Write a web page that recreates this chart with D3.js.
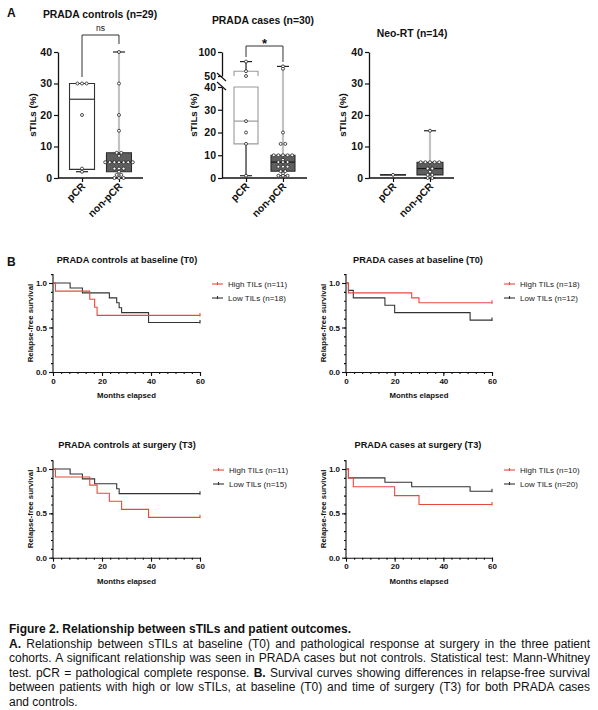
<!DOCTYPE html>
<html lang="en">
<head>
<meta charset="utf-8">
<script src="https://cdn.jsdelivr.net/npm/d3@7"></script>
<style>
    body { margin: 0; background: #fff; font-family: "Liberation Sans", Arial, sans-serif; }
    svg { position: absolute; left: 0; top: 0; }
    #caption { position: absolute; left: 9px; top: 622px; width: 581px; font-size: 12px; line-height: 14.6px; color: #111; }
    #caption div { white-space: nowrap; }
</style>
</head>
<body>
<script>
    // ---- panel A : sTILs (%) per response group ----
    var categories = ['pCR', 'non-pCR'];
    var controlsPCR = [30, 30, 30, 20, 3, 2];
    var controlsNonPCR = [40, 30, 20, 15, 8, 8, 7, 5, 5, 5, 5, 5, 5, 5, 3, 3, 3, 2, 1, 1, 0, 0, 0];
    var casesPCR = [80, 60, 50, 25, 20, 15, 1];
    var casesNonPCR = [70, 65, 20, 15, 15, 10, 10, 10, 10, 10, 8, 7, 7, 7, 5, 5, 5, 3, 3, 2, 1, 1, 1];
    var neoPCR = [1];
    var neoNonPCR = [15, 5, 5, 5, 5, 5, 3, 3, 2, 1, 1, 0, 0];
    var ticksA = [0, 10, 20, 30, 40];
    var ticksBreakLow = [0, 10, 20, 30, 40];
    var ticksBreakHigh = [50, 100];

    // ---- panel B : relapse-free survival, steps as [month, survival] ----
    var kmControlsT0High = [[0, 1], [1, 0.909], [15, 0.818], [17, 0.727], [18, 0.636]];
    var kmControlsT0Low = [[0, 1], [7, 0.944], [12, 0.889], [23, 0.833], [26, 0.778], [27, 0.722], [28, 0.667], [39, 0.556]];
    var kmCasesT0High = [[0, 1], [1, 0.889], [27, 0.833], [30, 0.778]];
    var kmCasesT0Low = [[0, 1], [1, 0.917], [3, 0.833], [16, 0.75], [20, 0.667], [51, 0.583]];
    var kmControlsT3High = [[0, 1], [1, 0.909], [15, 0.818], [18, 0.727], [23, 0.636], [28, 0.545], [39, 0.455]];
    var kmControlsT3Low = [[0, 1], [7, 0.944], [12, 0.889], [17, 0.833], [26, 0.778], [27, 0.722]];
    var kmCasesT3High = [[0, 1], [1, 0.9], [3, 0.8], [20, 0.7], [30, 0.6]];
    var kmCasesT3Low = [[0, 1], [1, 0.9], [16, 0.85], [27, 0.8], [51, 0.75]];
    var kmEnd = 60;
    var monthTicks = [0, 20, 40, 60];
    var survTicks = [0, 0.5, 1.0];
    var legendControlsT0 = ['High TILs (n=11)', 'Low TILs (n=18)'];
    var legendCasesT0 = ['High TILs (n=18)', 'Low TILs (n=12)'];
    var legendControlsT3 = ['High TILs (n=11)', 'Low TILs (n=15)'];
    var legendCasesT3 = ['High TILs (n=10)', 'Low TILs (n=20)'];

    var RED = '#e8493f', DARK = '#333';

    var svg = d3.select('body').append('svg')
            .attr('width', 598)
            .attr('height', 620);

    // GraphPad style quartiles, position (n+1)p
    function quart(vals, p) {
        var s = vals.slice().sort(d3.ascending);
        var pos = (s.length + 1) * p;
        if (pos <= 1) return s[0];
        if (pos >= s.length) return s[s.length - 1];
        var lo = Math.floor(pos);
        return s[lo - 1] + (pos - lo) * (s[lo] - s[lo - 1]);
    }

    function label(g, x, y, txt, size, weight, anchor) {
        return g.append('text')
                .attr('x', x)
                .attr('y', y)
                .attr('font-size', size)
                .attr('font-weight', weight || 'bold')
                .attr('text-anchor', anchor || 'middle')
                .attr('fill', '#111')
                .text(txt);
    }

    function drawBoxPanel(p) {
        var g = svg.append('g');
        var x = d3.scalePoint().domain(categories).range([p.axisX, p.axisX + 85]).padding(0.65);
        var y = p.y;

        label(g, p.titleX, p.titleY, p.title, 10.4);

        // y axis
        p.axes.forEach(function (a) {
            var ax = g.append('g')
                    .attr('transform', 'translate(' + p.axisX + ',0)')
                    .call(d3.axisLeft(a.scale).tickValues(a.ticks).tickSize(4).tickSizeOuter(0).tickPadding(2));
            ax.select('.domain').attr('stroke', '#111').attr('stroke-width', 1.3);
            ax.selectAll('.tick line').attr('stroke', '#111').attr('stroke-width', 1.2);
            ax.selectAll('text').attr('font-size', 10.5).attr('font-weight', 'bold')
                    .attr('font-family', '"Liberation Sans", Arial, sans-serif').attr('fill', '#111');
        });

        // x axis
        var xa = g.append('g')
                .attr('transform', 'translate(0,' + y(0) + ')')
                .call(d3.axisBottom(x).tickSize(4).tickSizeOuter(0).tickFormat(''));
        xa.select('.domain').attr('stroke', '#111').attr('stroke-width', 1.3)
                .attr('d', 'M' + p.axisX + ',0H' + (p.axisX + 85));
        xa.selectAll('.tick line').attr('stroke', '#111').attr('stroke-width', 1.2);
        categories.forEach(function (c) {
            label(g, 0, 0, c, 10.3, 'bold', 'end')
                    .attr('transform', 'translate(' + (x(c) + 4) + ',' + (y(0) + 9) + ') rotate(-45)');
        });

        label(g, 0, 0, 'sTILs (%)', 9.8)
                .attr('transform', 'translate(' + p.yLabelX + ',115) rotate(-90)');

        p.groups.forEach(function (grp, gi) {
            var cx = x(categories[gi]);
            var vals = grp.values;
            var q1 = quart(vals, 0.25), med = quart(vals, 0.5), q3 = quart(vals, 0.75);
            var lo = d3.min(vals), hi = d3.max(vals);
            var hw = p.boxHalf;
            var filled = gi === 1;

            // whiskers
            [[lo, q1], [q3, hi]].forEach(function (w, wi) {
                if (w[0] === w[1]) return;
                var capY = y(wi === 0 ? w[0] : w[1]);
                g.append('line')
                        .attr('x1', cx).attr('x2', cx)
                        .attr('y1', y(w[0])).attr('y2', y(w[1]))
                        .attr('stroke', filled ? '#c2c2c2' : grp.whisker)
                        .attr('stroke-width', filled ? 2.2 : 1.2);
                g.append('line')
                        .attr('x1', cx - 6).attr('x2', cx + 6)
                        .attr('y1', capY).attr('y2', capY)
                        .attr('stroke', '#222').attr('stroke-width', 1.2);
            });

            // box, split where the axis is broken (upper piece left open at the break)
            var pieces = p.splitBox ? p.splitBox(q1, q3) : [{lo: q1, hi: q3}];
            pieces.forEach(function (pc) {
                var top = y(pc.hi), bot = y(pc.lo);
                var d = pc.open
                        ? 'M' + (cx - hw) + ',' + bot + 'V' + top + 'H' + (cx + hw) + 'V' + bot
                        : 'M' + (cx - hw) + ',' + bot + 'V' + top + 'H' + (cx + hw) + 'V' + bot + 'Z';
                g.append('path')
                        .attr('d', d)
                        .attr('fill', filled ? '#5e5e5e' : '#fff')
                        .attr('stroke', filled ? '#2a2a2a' : grp.edge)
                        .attr('stroke-width', 1.1);
            });
            g.append('line')
                    .attr('x1', cx - hw).attr('x2', cx + hw)
                    .attr('y1', y(med)).attr('y2', y(med))
                    .attr('stroke', filled ? '#1a1a1a' : grp.edge)
                    .attr('stroke-width', 1.2);

            // points, spread sideways when values repeat
            var byVal = d3.group(vals, function (v) { return v; });
            byVal.forEach(function (arr, v) {
                arr.forEach(function (d, i) {
                    g.append('circle')
                            .attr('cx', cx + (i - (arr.length - 1) / 2) * 4.6)
                            .attr('cy', y(v))
                            .attr('r', 1.5)
                            .attr('fill', '#fff')
                            .attr('stroke', '#222')
                            .attr('stroke-width', 0.8);
                });
            });
        });

        // significance bracket
        var b = p.bracket;
        if (b) {
            var lx = x(categories[0]), rx = x(categories[1]);
            g.append('path')
                    .attr('d', 'M' + lx + ',' + b.leftEnd + 'V' + b.top + 'H' + rx + 'V' + b.rightEnd)
                    .attr('fill', 'none').attr('stroke', '#333').attr('stroke-width', 1);
            label(g, (lx + rx) / 2, b.top - b.gap, b.text, b.size, b.weight);
        }
        return g;
    }

    // A panel header letter
    label(svg, 7, 17, 'A', 12, 'bold', 'start');

    var yA = d3.scaleLinear().domain([0, 40]).range([178, 52]);

    drawBoxPanel({
        axisX: 58, title: 'PRADA controls (n=29)', titleX: 100, titleY: 18, yLabelX: 36,
        y: yA, axes: [{scale: yA, ticks: ticksA}], boxHalf: 12.5,
        groups: [{values: controlsPCR, edge: '#333', whisker: '#333'}, {values: controlsNonPCR}],
        bracket: {top: 35, leftEnd: 77, rightEnd: 44, text: 'ns', size: 8.5, weight: 'normal', gap: 4}
    });

    // broken axis for PRADA cases
    var yLow = d3.scaleLinear().domain([0, 40]).range([178, 87]);
    var yHigh = d3.scaleLinear().domain([50, 100]).range([76, 52]);
    var yBreak = function (v) { return v <= 45 ? yLow(v) : yHigh(v); };
    var casesPanel = drawBoxPanel({
        axisX: 222, title: 'PRADA cases (n=30)', titleX: 263, titleY: 24, yLabelX: 197,
        y: yBreak, axes: [{scale: yLow, ticks: ticksBreakLow}, {scale: yHigh, ticks: ticksBreakHigh}],
        boxHalf: 12,
        splitBox: function (a, b) {
            if (b <= 40 || a >= 50) return [{lo: a, hi: b}];
            return [{lo: a, hi: 40}, {lo: 50, hi: b, open: true}];
        },
        groups: [{values: casesPCR, edge: '#9a9a9a', whisker: '#222'}, {values: casesNonPCR}],
        bracket: {top: 46, leftEnd: 57, rightEnd: 62, text: '*', size: 13, weight: 'bold', gap: -2}
    });
    // break marks on the y axis
    casesPanel.selectAll('path.brk').data([yHigh(50) + 1, yLow(40) - 1]).enter()
            .append('path')
            .attr('d', function (d) { return 'M' + 217 + ',' + (d - 4) + 'L' + 226 + ',' + (d + 4); })
            .attr('stroke', '#111').attr('stroke-width', 1.2);

    drawBoxPanel({
        axisX: 369, title: 'Neo-RT (n=14)', titleX: 412, titleY: 37, yLabelX: 346,
        y: yA, axes: [{scale: yA, ticks: ticksA}], boxHalf: 13,
        groups: [{values: neoPCR, edge: '#222', whisker: '#222'}, {values: neoNonPCR}],
        bracket: null
    });

    // ---- panel B ----
    label(svg, 7, 266, 'B', 12, 'bold', 'start');

    function drawKM(p) {
        var g = svg.append('g');
        var x = d3.scaleLinear().domain([0, 60]).range([p.x0, p.x1]);
        var y = d3.scaleLinear().domain([0, 1]).range([p.y0, p.y1]);

        label(g, p.titleX, p.titleY, p.title, 9.2);

        var ya = g.append('g').attr('transform', 'translate(' + p.x0 + ',0)')
                .call(d3.axisLeft(y).tickValues(d3.range(0, 1.11, 0.1)).tickSize(2).tickSizeOuter(0).tickFormat(''));
        ya.select('.domain').attr('d', 'M0,' + y(0) + 'V' + y(1.1));
        var yb = g.append('g').attr('transform', 'translate(' + p.x0 + ',0)')
                .call(d3.axisLeft(y).tickValues(survTicks).tickSize(4).tickSizeOuter(0).tickPadding(2)
                        .tickFormat(d3.format('.1f')));
        yb.select('.domain').remove();

        var xa = g.append('g').attr('transform', 'translate(0,' + p.y0 + ')')
                .call(d3.axisBottom(x).tickValues(d3.range(0, 60.1, 20 / 6)).tickSize(2).tickSizeOuter(0).tickFormat(''));
        var xb = g.append('g').attr('transform', 'translate(0,' + p.y0 + ')')
                .call(d3.axisBottom(x).tickValues(monthTicks).tickSize(4).tickSizeOuter(0).tickPadding(2));
        xb.select('.domain').remove();

        g.selectAll('.domain, .tick line').attr('stroke', '#111').attr('stroke-width', 1.1);
        g.selectAll('.tick text').attr('font-size', 8).attr('font-weight', 'bold')
                .attr('font-family', '"Liberation Sans", Arial, sans-serif').attr('fill', '#111');

        label(g, (p.x0 + p.x1) / 2, p.y0 + 26, 'Months elapsed', 7.8);
        label(g, 0, 0, 'Relapse-free survival', 7.8)
                .attr('transform', 'translate(' + (p.x0 - 20) + ',' + ((p.y0 + y(1.1)) / 2) + ') rotate(-90)');

        var line = d3.line()
                .x(function (d) { return x(d[0]); })
                .y(function (d) { return y(d[1]); })
                .curve(d3.curveStepAfter);

        [{data: p.low, color: DARK}, {data: p.high, color: RED}].forEach(function (s) {
            var pts = s.data.concat([[kmEnd, s.data[s.data.length - 1][1]]]);
            g.append('path')
                    .attr('d', line(pts))
                    .attr('fill', 'none')
                    .attr('stroke', s.color)
                    .attr('stroke-width', 1.1);
            var last = pts[pts.length - 1];
            g.append('line')
                    .attr('x1', x(last[0])).attr('x2', x(last[0]))
                    .attr('y1', y(last[1]) - 2.5).attr('y2', y(last[1]) + 1)
                    .attr('stroke', s.color).attr('stroke-width', 1.1);
        });

        // legend
        var leg = g.selectAll('g.leg').data([{t: p.legend[0], c: RED}, {t: p.legend[1], c: DARK}]).enter()
                .append('g')
                .attr('transform', function (d, i) { return 'translate(' + p.lx + ',' + (p.ly + i * 14) + ')'; });
        leg.append('line').attr('x1', 0).attr('x2', 11).attr('y1', 0).attr('y2', 0)
                .attr('stroke', function (d) { return d.c; }).attr('stroke-width', 1.1);
        leg.append('line').attr('x1', 5.5).attr('x2', 5.5).attr('y1', -2).attr('y2', 1)
                .attr('stroke', function (d) { return d.c; }).attr('stroke-width', 1.1);
        leg.append('text').attr('x', 16).attr('y', 2.9)
                .attr('font-size', 8).attr('fill', '#222')
                .text(function (d) { return d.t; });
    }

    drawKM({x0: 53, x1: 200, y0: 372, y1: 283, title: 'PRADA controls at baseline (T0)', titleX: 127, titleY: 263,
        high: kmControlsT0High, low: kmControlsT0Low, legend: legendControlsT0, lx: 212, ly: 284});
    drawKM({x0: 346, x1: 492, y0: 372, y1: 283, title: 'PRADA cases at baseline (T0)', titleX: 418, titleY: 263,
        high: kmCasesT0High, low: kmCasesT0Low, legend: legendCasesT0, lx: 504, ly: 284});
    drawKM({x0: 53, x1: 200, y0: 557.7, y1: 469, title: 'PRADA controls at surgery (T3)', titleX: 127, titleY: 448,
        high: kmControlsT3High, low: kmControlsT3Low, legend: legendControlsT3, lx: 213, ly: 470});
    drawKM({x0: 346, x1: 492, y0: 557.7, y1: 469, title: 'PRADA cases at surgery (T3)', titleX: 418, titleY: 448,
        high: kmCasesT3High, low: kmCasesT3Low, legend: legendCasesT3, lx: 504, ly: 470});

    // ---- caption, each line justified by measuring it and spreading the gaps ----
    var cap = d3.select('body').append('div').attr('id', 'caption');
    var capLines = [
        [['b', 'Figure 2. Relationship between sTILs and patient outcomes.']],
        [['b', 'A.'], ['span', ' Relationship between sTILs at baseline (T0) and pathological response at surgery in the three patient']],
        [['span', 'cohorts. A significant relationship was seen in PRADA cases but not controls. Statistical test: Mann-Whitney']],
        [['span', 'test. pCR = pathological complete response. '], ['b', 'B.'], ['span', ' Survival curves showing differences in relapse-free survival']],
        [['span', 'between patients with high or low sTILs, at baseline (T0) and time of surgery (T3) for both PRADA cases']],
        [['span', 'and controls.']]
    ];
    capLines.forEach(function (parts, li) {
        var row = cap.append('div');
        var inner = row.append('span').style('display', 'inline-block');
        parts.forEach(function (pt) { inner.append(pt[0]).text(pt[1]); });
        if (li === 0 || li === capLines.length - 1) return;
        var w = inner.node().getBoundingClientRect().width;
        var gaps = parts.map(function (pt) { return pt[1]; }).join('').split(' ').length - 1;
        inner.style('word-spacing', ((581 - w) / gaps) + 'px');
    });
</script>
</body>
</html>
